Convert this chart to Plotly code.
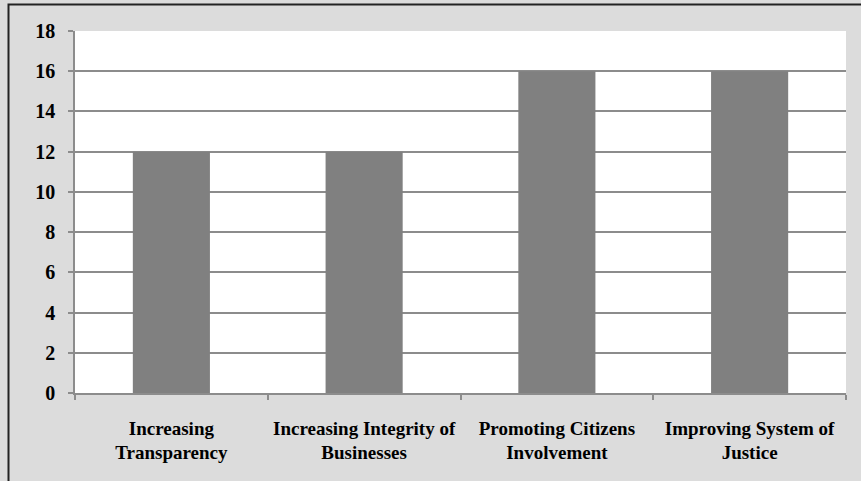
import plotly.graph_objects as go

categories = [
    "Increasing<br>Transparency",
    "Increasing Integrity of<br>Businesses",
    "Promoting Citizens<br>Involvement",
    "Improving System of<br>Justice",
]
values = [12, 12, 16, 16]
y_ticks = [0, 2, 4, 6, 8, 10, 12, 14, 16, 18]

W, H = 861, 481
L, R, T, B = 75, 15, 31, 88

font_main = dict(family="'Liberation Serif', 'Times New Roman', serif",
                 size=19, color="#000000", weight="bold")
font_y = dict(font_main, size=20)

fig = go.Figure(
    go.Bar(
        x=categories,
        y=values,
        marker=dict(color="#808080", line=dict(width=0)),
        width=0.4,
    )
)

# outer frame of the chart area (paper coordinates extend past the plot domain)
pw, ph = W - L - R, H - T - B
fig.add_shape(
    type="rect",
    xref="paper", yref="paper",
    x0=(8.5 - L) / pw, x1=(W + 10 - L) / pw,
    y0=(H - B - (H + 10)) / ph, y1=(H - B - 4.5) / ph,
    line=dict(color="#222222", width=2),
    fillcolor="rgba(0,0,0,0)",
    layer="below",
)

fig.update_layout(
    width=W, height=H,
    margin=dict(l=L, r=R, t=T, b=B),
    paper_bgcolor="#dcdcdc",
    plot_bgcolor="#ffffff",
    showlegend=False,
    font=font_main,
    bargap=0.6,
)

fig.update_xaxes(
    type="category",
    tickson="boundaries",
    ticks="outside",
    ticklen=5,
    tickwidth=1.5,
    tickcolor="#8c8c8c",
    showline=True,
    linecolor="#8c8c8c",
    linewidth=1.5,
    showgrid=False,
    tickfont=font_main,
    ticklabelstandoff=17,
)

fig.update_yaxes(
    range=[0, 18],
    tickvals=y_ticks,
    ticks="outside",
    ticklen=5,
    tickwidth=1.5,
    tickcolor="#8c8c8c",
    showline=True,
    linecolor="#8c8c8c",
    linewidth=1.5,
    showgrid=True,
    gridcolor="#8c8c8c",
    gridwidth=1.5,
    zeroline=False,
    tickfont=font_y,
    ticklabelstandoff=9,
)

fig.write_html("out.html")
